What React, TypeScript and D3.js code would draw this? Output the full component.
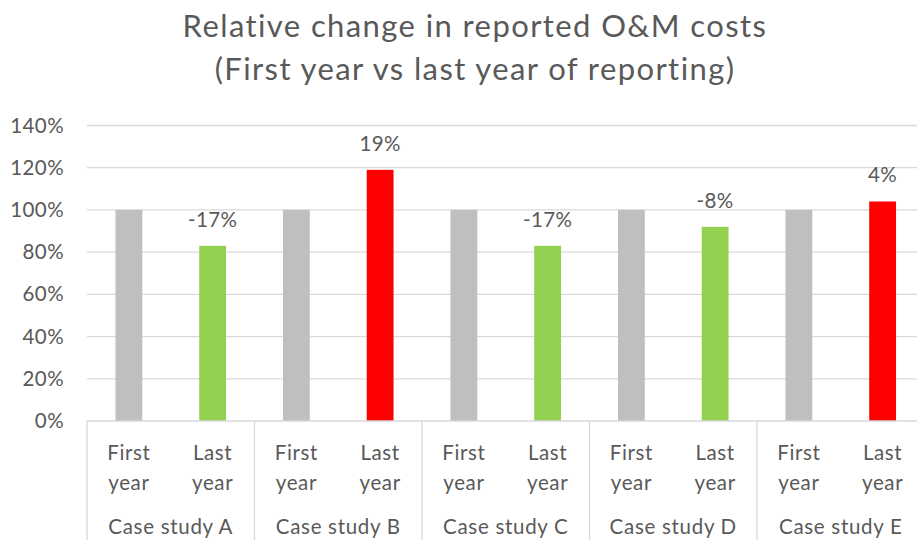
import React from "react";
import * as d3 from "d3";

const caseStudies = ["Case study A", "Case study B", "Case study C", "Case study D", "Case study E"];
const periods = ["First year", "Last year"];
const firstYearValues = [100, 100, 100, 100, 100];
const lastYearValues = [83, 119, 83, 92, 104];
const changeLabels = ["-17%", "19%", "-17%", "-8%", "4%"];
const yTicks = [0, 20, 40, 60, 80, 100, 120, 140];
const titleLines = ["Relative change in reported O&M costs", "(First year vs last year of reporting)"];

const W = 917;
const H = 540;
const FONT = "Lato, 'Open Sans', sans-serif";
const TXT = "#595959";

export default function App() {
  const left = 87;
  const right = 87 + 5 * 167.5;
  const top = 125.5;
  const bottom = 421;

  const x0 = d3.scaleBand<string>().domain(caseStudies).range([left, right]).paddingInner(0).paddingOuter(0);
  const x1 = d3.scaleBand<string>().domain(periods).range([0, x0.bandwidth()]).paddingInner(0.68).paddingOuter(0.34);
  const y = d3.scaleLinear().domain([0, 140]).range([bottom, top]);

  const bars: { cs: string; p: string; v: number; color: string; label?: string }[] = [];
  caseStudies.forEach((cs, i) => {
    bars.push({ cs, p: periods[0], v: firstYearValues[i], color: "#BFBFBF" });
    const v = lastYearValues[i];
    bars.push({ cs, p: periods[1], v, color: v < firstYearValues[i] ? "#92D050" : "#FF0000", label: changeLabels[i] });
  });

  return (
    <svg width={W} height={H} style={{ position: "absolute", left: 0, top: 0, background: "#fff" }} fontFamily={FONT}>
      <rect x={0} y={0} width={W} height={H} fill="#fff" />
      {titleLines.map((t, i) => (
        <text key={t} x={475} y={37 + i * 43} textAnchor="middle" fontSize={31} letterSpacing={1.4} fill={TXT}>
          {t}
        </text>
      ))}
      {yTicks.map((t) => (
        <g key={t}>
          {t > 0 && <line x1={left} x2={W} y1={y(t)} y2={y(t)} stroke="#D9D9D9" strokeWidth={1.3} />}
          <text x={64} y={y(t) + 7} textAnchor="end" fontSize={20.5} letterSpacing={0.4} fill={TXT}>
            {t}%
          </text>
        </g>
      ))}
      {bars.map((b) => {
        const bx = (x0(b.cs) as number) + (x1(b.p) as number);
        return (
          <g key={b.cs + b.p}>
            <rect x={bx} y={y(b.v)} width={x1.bandwidth()} height={bottom - y(b.v)} fill={b.color} />
            {b.label && (
              <text x={bx + x1.bandwidth() / 2} y={y(b.v) - 19} textAnchor="middle" fontSize={20.5} letterSpacing={0.4} fill={TXT}>
                {b.label}
              </text>
            )}
          </g>
        );
      })}
      <line x1={left} x2={W} y1={bottom} y2={bottom} stroke="#D9D9D9" strokeWidth={1.3} />
      {caseStudies.map((cs) => x0(cs) as number).map((xv, i) => (
        <line key={i} x1={xv} x2={xv} y1={bottom} y2={H} stroke="#D9D9D9" strokeWidth={1.3} />
      ))}
      {caseStudies.map((cs) => (
        <g key={cs}>
          {periods.map((p) => {
            const cx = (x0(cs) as number) + (x1(p) as number) + x1.bandwidth() / 2;
            const [w1, w2] = p.split(" ");
            return (
              <text key={p} x={cx} textAnchor="middle" fontSize={20.5} letterSpacing={0.6} fill={TXT}>
                <tspan x={cx} y={460}>{w1}</tspan>
                <tspan x={cx} y={490}>{w2}</tspan>
              </text>
            );
          })}
          <text x={(x0(cs) as number) + x0.bandwidth() / 2} y={534} textAnchor="middle" fontSize={20.5} letterSpacing={0.7} fill={TXT}>
            {cs}
          </text>
        </g>
      ))}
    </svg>
  );
}
